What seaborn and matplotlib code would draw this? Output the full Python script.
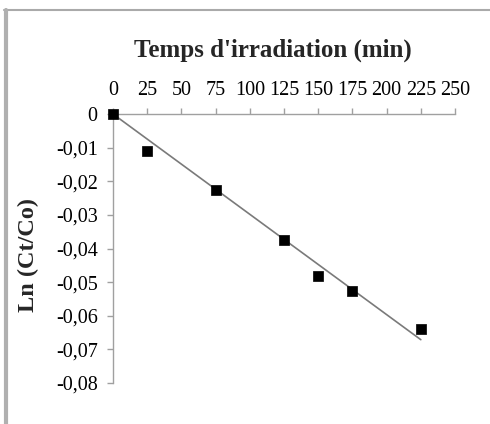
import numpy as np
import pandas as pd
import matplotlib
matplotlib.use("Agg")
import matplotlib.pyplot as plt
from matplotlib.lines import Line2D
import seaborn as sns

# Data
temps = [0, 25, 75, 125, 150, 175, 225]
ln_ct_co = [0.0, -0.0109, -0.0226, -0.0375, -0.0482, -0.0525, -0.0640]
x_ticks = [0, 25, 50, 75, 100, 125, 150, 175, 200, 225, 250]
y_ticks = [0, -0.01, -0.02, -0.03, -0.04, -0.05, -0.06, -0.07, -0.08]

sns.set_theme(style="white")
plt.rcParams['font.family'] = ['Liberation Serif', 'DejaVu Serif']

df = pd.DataFrame({"t": temps, "ln": ln_ct_co})

fig = plt.figure(figsize=(4.9, 4.24), dpi=100)
ax = fig.add_axes([113/490, 41/424, (455-113)/490, (383-114)/424])

# Linear trendline through the origin (fitted from data)
xa = np.array(temps, dtype=float)
ya = np.array(ln_ct_co)
slope = (xa * ya).sum() / (xa * xa).sum()
xl = np.array([0, max(temps)])
ax.plot(xl, slope * xl, color="#7a7a7a", lw=1.2, zorder=2)

sns.scatterplot(data=df, x="t", y="ln", marker="s", s=60, color="black",
                edgecolor="black", linewidth=0.5, ax=ax, zorder=3, clip_on=False)

ax.set_xlim(0, 250)
ax.set_ylim(-0.08, 0)
ax.set_xticks(x_ticks)
ax.set_yticks(y_ticks)
ax.xaxis.tick_top()
ax.set_xticklabels([str(v) for v in x_ticks])
ax.set_yticklabels(["0" if v == 0 else f"{v:.2f}".replace(".", ",") for v in y_ticks])
ax.set_xlabel("")
ax.set_ylabel("")

for s in ["bottom", "right"]:
    ax.spines[s].set_visible(False)
axc = "#a0a0a0"
ax.spines["top"].set_color(axc)
ax.spines["left"].set_color(axc)
ax.spines["top"].set_linewidth(1.0)
ax.spines["left"].set_linewidth(1.0)
ax.tick_params(axis="x", which="both", top=True, bottom=False, direction="out",
               length=4, width=1, color=axc, pad=6, labelsize=14.5, labelcolor="black")
ax.tick_params(axis="y", which="both", left=True, direction="out",
               length=4, width=1, color=axc, pad=7, labelsize=14.5, labelcolor="black")
ax.grid(False)

fig.text(273/490, 1 - 50/424, "Temps d'irradiation (min)", ha="center", va="center",
         fontsize=18, fontweight="bold")
fig.text(28/490, 1 - 255/424, "Ln (Ct/Co)", ha="center", va="center", rotation=90,
         fontsize=17.5, fontweight="bold")

# Frame lines of the original image
fig.add_artist(Line2D([4/490, 1], [1 - 10/424, 1 - 10/424], transform=fig.transFigure,
                      color="#aaaaaa", lw=1.5))
fig.add_artist(Line2D([6/490, 6/490], [0, 1 - 10/424], transform=fig.transFigure,
                      color="#b0b0b0", lw=3))

fig.savefig("out.png", dpi=100)
